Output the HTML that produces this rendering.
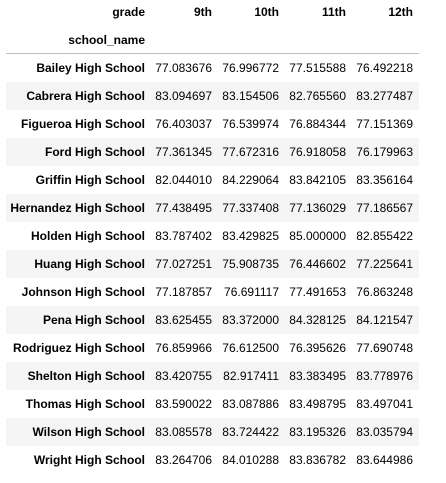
<!DOCTYPE html>
<html><head><meta charset="utf-8"><style>
body{margin:0;width:446px;height:483px;background:#fff;font-family:"Liberation Sans",sans-serif;font-size:12px;color:#000;position:relative;overflow:hidden}
.c{position:absolute;text-align:right;white-space:nowrap;line-height:28px}
.b{font-weight:bold}
.row{position:absolute;left:6px;width:413px;height:28px}
</style></head><body>
<div id="t"></div>
<script>
const schools=["Bailey High School","Cabrera High School","Figueroa High School","Ford High School","Griffin High School","Hernandez High School","Holden High School","Huang High School","Johnson High School","Pena High School","Rodriguez High School","Shelton High School","Thomas High School","Wilson High School","Wright High School"];
const grades=["9th","10th","11th","12th"];
const g9=["77.083676","83.094697","76.403037","77.361345","82.044010","77.438495","83.787402","77.027251","77.187857","83.625455","76.859966","83.420755","83.590022","83.085578","83.264706"];
const g10=["76.996772","83.154506","76.539974","77.672316","84.229064","77.337408","83.429825","75.908735","76.691117","83.372000","76.612500","82.917411","83.087886","83.724422","84.010288"];
const g11=["77.515588","82.765560","76.884344","76.918058","83.842105","77.136029","85.000000","76.446602","77.491653","84.328125","76.395626","83.383495","83.498795","83.195326","83.836782"];
const g12=["76.492218","83.277487","77.151369","76.179963","83.356164","77.186567","82.855422","77.225641","76.863248","84.121547","77.690748","83.778976","83.497041","83.035794","83.644986"];
const cols=[g9,g10,g11,g12];
const colRight=[212,279,346,413];
const t=document.getElementById('t');
function cell(txt,right,top,bold,name){
 const d=document.createElement('div');
 d.className='c'+(bold?' b':'');
 d.style.right=(446-right)+'px';d.style.top=top+'px';
 d.textContent=txt;
 
 
 t.appendChild(d);
}
cell('grade',145,-2,true,'columns-name-label');
grades.forEach((g,i)=>cell(g,colRight[i],-2,true,'column-header-'+g));
cell('school_name',145,26,true,'index-name-label');
const line=document.createElement('div');
line.style.cssText='position:absolute;left:6px;top:53px;width:413px;height:1px;background:#bdbdbd';


t.appendChild(line);
schools.forEach((s,r)=>{
 const top=54+r*28;
 if(r%2==1){const bg=document.createElement('div');bg.className='row';bg.style.top=top+'px';bg.style.background='#f5f5f5';
 
 
 t.appendChild(bg);}
 cell(s,145,top,true,'row-label');
 cols.forEach((c,i)=>cell(c[r],colRight[i],top,false,'cell-value'));
});
</script>
</body></html>
